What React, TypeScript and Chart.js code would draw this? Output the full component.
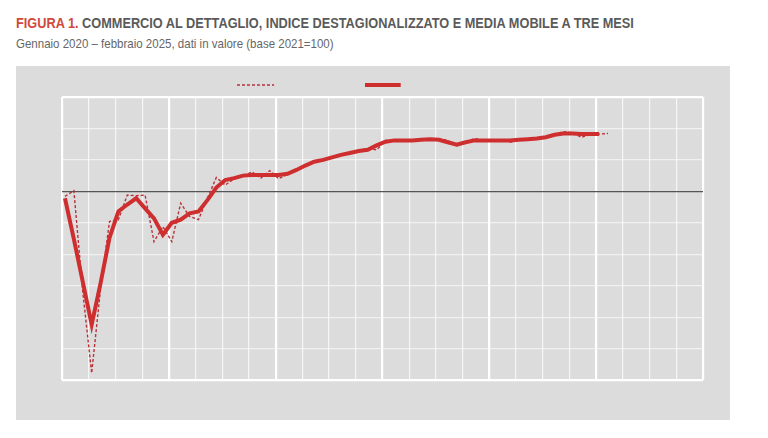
import React, { useEffect, useRef } from "react";
import { Chart, registerables } from "chart.js";

Chart.register(...registerables);

const TITLE_RED = "FIGURA 1.";
const TITLE_REST = " COMMERCIO AL DETTAGLIO, INDICE DESTAGIONALIZZATO E MEDIA MOBILE A TRE MESI";
const SUBTITLE = "Gennaio 2020 – febbraio 2025, dati in valore (base 2021=100)";

const SERIES_LABELS = ["Indice destagionalizzato", "Media mobile a tre mesi"];

// Monthly index values, Jan 2020 – Feb 2025 (base 2021 = 100)
const indexValues = [
  99.2, 100.1, 84.0, 71.1, 84.5, 95.2, 95.5, 99.4, 99.3, 99.4, 92.0, 94.4,
  92.0, 98.1, 96.0, 95.5, 98.9, 102.2, 101.0, 102.0, 102.4, 103.1, 102.1, 103.3,
  102.0, 102.7, 103.5, 104.2, 104.9, 104.8, 105.5, 105.9, 106.0, 106.5, 106.8, 106.6,
  108.1, 108.0, 108.2, 108.0, 108.3, 108.2, 108.3, 108.1, 107.2, 107.9, 108.4, 108.1,
  108.0, 108.2, 107.8, 108.2, 108.3, 108.4, 108.7, 109.1, 109.5, 109.3, 108.6, 109.0,
  109.1, 109.2,
];

// Three-month moving average, Jan 2020 – Jan 2025
const movingAverage = [
  98.9, 92.4, 85.6, 78.8, 85.4, 92.6, 96.8, 97.9, 98.9, 97.3, 95.7, 93.1,
  95.0, 95.5, 96.5, 96.8, 98.6, 100.6, 101.8, 102.1, 102.5, 102.6, 102.6, 102.6,
  102.6, 102.8, 103.4, 104.1, 104.7, 105.0, 105.4, 105.8, 106.1, 106.4, 106.6, 107.3,
  107.9, 108.1, 108.1, 108.1, 108.2, 108.3, 108.2, 107.8, 107.4, 107.8, 108.1, 108.1,
  108.1, 108.1, 108.1, 108.2, 108.3, 108.4, 108.6, 109.0, 109.2, 109.2, 109.1, 109.1,
  109.1,
];

const Y_MIN = 70;
const Y_MAX = 115;
const Y_STEP = 5;
const BASE_VALUE = 100;
const MONTHS_SHOWN = 72; // 2020 – 2025
const GRID_STEP_MONTHS = 3;
const X_SHIFT = 1 / 3; // grid lines sit a third of a month before the points

const RED = "#cf2e2e";
const DASH_RED = "#b8323c";
const PANEL = "#dcdcdc";

const legendPlugin = {
  id: "lineLegend",
  afterDraw(chart: any) {
    const { ctx, width } = chart;
    const items = [
      { ds: chart.data.datasets[0], start: 0.3095, len: 0.052 },
      { ds: chart.data.datasets[1], start: 0.4888, len: 0.05 },
    ];
    ctx.save();
    items.forEach(({ ds, start, len }) => {
      ctx.beginPath();
      ctx.strokeStyle = ds.borderColor;
      ctx.lineWidth = ds.borderWidth;
      ctx.setLineDash(ds.borderDash || []);
      ctx.moveTo(width * start, 19);
      ctx.lineTo(width * (start + len), 19);
      ctx.stroke();
    });
    ctx.restore();
  },
};

export default function App() {
  const ref = useRef<HTMLCanvasElement | null>(null);

  useEffect(() => {
    if (!ref.current) return;
    const chart = new Chart(ref.current, {
      type: "line",
      data: {
        datasets: [
          {
            label: SERIES_LABELS[0],
            data: indexValues.map((v, i) => ({ x: i, y: v })),
            borderColor: DASH_RED,
            borderWidth: 1.4,
            borderDash: [3, 2],
            pointRadius: 0,
            tension: 0,
            order: 2,
          },
          {
            label: SERIES_LABELS[1],
            data: movingAverage.map((v, i) => ({ x: i, y: v })),
            borderColor: RED,
            borderWidth: 4,
            pointRadius: 0,
            tension: 0,
            order: 1,
          },
        ],
      },
      options: {
        animation: false,
        responsive: false,
        layout: { padding: { left: 46, right: 27, top: 31, bottom: 40 } },
        plugins: { legend: { display: false }, tooltip: { enabled: false } },
        scales: {
          x: {
            type: "linear",
            min: -X_SHIFT,
            max: MONTHS_SHOWN - X_SHIFT,
            afterBuildTicks: (scale: any) => {
              const ticks = [];
              for (let k = 0; k <= MONTHS_SHOWN / GRID_STEP_MONTHS; k++) {
                ticks.push({ value: k * GRID_STEP_MONTHS - X_SHIFT });
              }
              scale.ticks = ticks;
            },
            ticks: { display: false },
            border: { display: false },
            grid: {
              drawTicks: false,
              color: (c: any) => (c.index % 4 === 0 ? "#ffffff" : "rgba(255,255,255,0.75)"),
              lineWidth: (c: any) => (c.index % 4 === 0 ? 2.2 : 1.2),
            },
          },
          y: {
            min: Y_MIN,
            max: Y_MAX,
            ticks: { display: false, stepSize: Y_STEP },
            border: { display: false },
            grid: {
              drawTicks: false,
              color: (c: any) =>
                c.tick && c.tick.value === BASE_VALUE
                  ? "#555555"
                  : c.tick && (c.tick.value === Y_MIN || c.tick.value === Y_MAX)
                  ? "#ffffff"
                  : "rgba(255,255,255,0.6)",
              lineWidth: (c: any) =>
                c.tick && (c.tick.value === Y_MIN || c.tick.value === Y_MAX) ? 2.2 : 1.2,
            },
          },
        },
      },
      plugins: [legendPlugin],
    });
    return () => chart.destroy();
  }, []);

  return (
    <div style={{ position: "relative", width: 752, height: 422, background: "#ffffff" }}>
      <div
        style={{
          position: "absolute",
          left: 8,
          top: 7,
          fontFamily: "'Liberation Sans', Arial, sans-serif",
          fontWeight: "bold",
          fontSize: 14,
          lineHeight: "16px",
          color: "#5a5a5a",
          whiteSpace: "nowrap",
          transform: "scaleX(0.91)",
          transformOrigin: "left top",
        }}
      >
        <span style={{ color: "#d0493c" }}>{TITLE_RED}</span>
        {TITLE_REST}
      </div>
      <div
        style={{
          position: "absolute",
          left: 8,
          top: 28,
          fontFamily: "'Liberation Sans', Arial, sans-serif",
          fontSize: 13,
          lineHeight: "16px",
          color: "#666666",
          whiteSpace: "nowrap",
          transform: "scaleX(0.885)",
          transformOrigin: "left top",
        }}
      >
        {SUBTITLE}
      </div>
      <canvas
        ref={ref}
        width={714}
        height={354}
        style={{ position: "absolute", left: 8, top: 58, width: 714, height: 354, background: PANEL }}
      />
    </div>
  );
}
